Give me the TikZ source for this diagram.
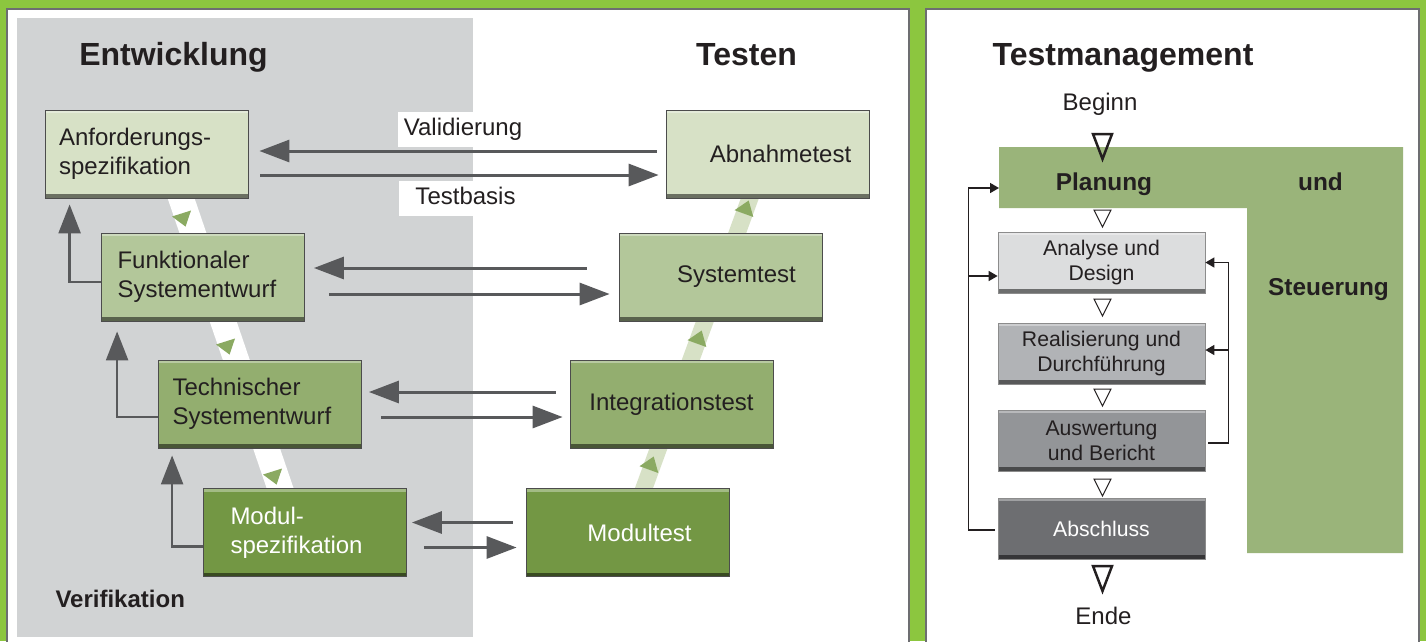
\documentclass[tikz,border=0pt]{standalone}
\usepackage{fontspec}
\setmainfont{Liberation Sans}
\usepackage{tikz}
\usetikzlibrary{arrows.meta, calc}
\definecolor{vmframe}{HTML}{8CC63F}
\definecolor{vmpanel}{HTML}{6D6E71}
\definecolor{vmdevgray}{HTML}{D1D3D4}
\definecolor{vmlight}{HTML}{D7E1C6}
\definecolor{vmmid}{HTML}{B3C79A}
\definecolor{vmdark}{HTML}{93AE6F}
\definecolor{vmdeep}{HTML}{739744}
\definecolor{vmtri}{HTML}{8BAA62}
\definecolor{vmarrow}{HTML}{58595B}
\definecolor{vmtext}{HTML}{231F20}
\definecolor{tmgreen}{HTML}{9AB47A}
\definecolor{tmA}{HTML}{DCDDDE}
\definecolor{tmB}{HTML}{B1B3B6}
\definecolor{tmC}{HTML}{939598}
\definecolor{tmD}{HTML}{6D6E71}

\tikzset{
  bevel/.style={draw=black!70, line width=0.8pt,
    path picture={
      \fill[white, opacity=0.35] (path picture bounding box.north west) rectangle ($(path picture bounding box.north east)+(0,3)$);
      \fill[black, opacity=0.5] (path picture bounding box.south west) rectangle ($(path picture bounding box.south east)+(0,-4)$);
    }},
  vbox/.style={rectangle, bevel, minimum width=203pt, minimum height=88pt,
    text=vmtext, font=\fontsize{24}{29}\selectfont},
  devbox/.style={vbox, align=left},
  tmbox/.style={rectangle, bevel, draw=black!45, minimum width=207pt, minimum height=61pt,
    text=vmtext, align=center, font=\fontsize{21.2}{25}\selectfont},
  title/.style={anchor=base, text=vmtext, font=\bfseries\fontsize{32}{38}\selectfont},
  lbl/.style={fill=white, text=vmtext, text height=17pt, text depth=5pt, minimum height=35pt,
    font=\fontsize{24}{29}\selectfont},
  plain/.style={anchor=base, text=vmtext, font=\fontsize{24}{29}\selectfont},
  boldtxt/.style={anchor=base, text=vmtext, font=\bfseries\fontsize{24.4}{29}\selectfont},
  varrow/.style={draw=vmarrow, line width=3pt, -{Triangle[length=30pt, width=22pt]}},
  verarrow/.style={draw=vmarrow, line width=2.5pt, -{Triangle[length=29pt, width=22pt]}},
  fbarrow/.style={draw=vmtext, line width=1.6pt, -{Triangle[length=9pt, width=10pt]}},
  flowtri/.style={draw=vmtext, line width=1pt, line join=miter}
}

\begin{document}
\begin{tikzpicture}[x=1pt, y=-1pt]
  \useasboundingbox (0,0) rectangle (1426,641);

  % Frame and panels
  \fill[vmframe] (0,0) rectangle (1426,641);
  \filldraw[fill=white, draw=vmpanel, line width=2.5pt] (7,9) rectangle (909,645);
  \filldraw[fill=white, draw=vmpanel, line width=2.5pt] (926,9) rectangle (1419,645);
  \fill[vmdevgray] (17,18) rectangle (473,637);

  % V bands
  \draw[white, line width=25.5pt] (164.6,150) -- (297.8,540);
  \draw[vmlight, line width=17pt] (625,540) -- (767.5,150);
  \foreach \cx/\cy in {183/219, 227/347, 274/477}
    \fill[vmtri] (\cx-11,\cy-2.5) -- (\cx+8,\cy-8.5) -- (\cx+2.6,\cy+7.6) -- cycle;
  \foreach \cx/\cy in {651/464, 699/338, 746/208}
    \fill[vmtri] (\cx-11.5,\cy+2.2) -- (\cx+7.3,\cy+9) -- (\cx+2.7,\cy-7.5) -- cycle;

  % Titles
  \node[title] (entw) at (173.5,65) {Entwicklung};
  \node[title] (testen) at (746.5,65) {Testen};
  \node[title] (tmtitle) at (1123,65) {Testmanagement};

  % Development side
  \node[devbox, fill=vmlight, text width=175pt, inner xsep=14pt] (anf) at (146.5,154) {Anforderungs-\\spezifikation};
  \node[devbox, fill=vmmid, text width=171pt, inner xsep=16pt] (fkt) at (203,277) {Funktionaler\\Systementwurf};
  \node[devbox, fill=vmdark, text width=175pt, inner xsep=14pt] (tech) at (260,404) {Technischer\\Systementwurf};
  \node[devbox, fill=vmdeep, text=white, text width=149pt, inner xsep=27pt] (modspez) at (305,532.5) {Modul-\\spezifikation};

  % Test side
  \node[vbox, fill=vmlight] (abn) at (767.5,154) {\hspace*{26pt}Abnahmetest};
  \node[vbox, fill=vmmid] (sys) at (720.5,277) {\hspace*{32pt}Systemtest};
  \node[vbox, fill=vmdark] (integ) at (671.5,404) {Integrationstest\\[4pt]};
  \node[vbox, fill=vmdeep, text=white] (modtest) at (627.5,532.5) {\hspace*{24pt}Modultest};

  % Validierung / Testbasis
  \draw[varrow] ([shift={(-9,-3)}]abn.west) -- ([shift={(11,-3)}]anf.east);
  \draw[varrow] ([shift={(12,21)}]anf.east) -- ([shift={(-7,21)}]abn.west);
  \draw[varrow] ([shift={(-32,-9)}]sys.west) -- ([shift={(9,-9)}]fkt.east);
  \draw[varrow] ([shift={(24,17)}]fkt.east) -- ([shift={(-9,17)}]sys.west);
  \draw[varrow] ([shift={(-14,-12)}]integ.west) -- ([shift={(7,-12)}]tech.east);
  \draw[varrow] ([shift={(19,13)}]tech.east) -- ([shift={(-7,13)}]integ.west);
  \draw[varrow] ([shift={(-13,-10)}]modtest.west) -- ([shift={(5,-10)}]modspez.east);
  \draw[varrow] ([shift={(17,15)}]modspez.east) -- ([shift={(-9,15)}]modtest.west);
  \node[lbl, inner xsep=6pt] (valid) at (463,129) {Validierung};
  \node[lbl, inner xsep=16pt] (tbasis) at (465.5,198) {Testbasis};

  % Verifikation
  \draw[verarrow] ([shift={(0,5)}]fkt.west) -| ([shift={(25,6)}]anf.south west);
  \draw[verarrow] ([shift={(0,13)}]tech.west) -| ([shift={(16,10)}]fkt.south west);
  \draw[verarrow] ([shift={(0,14)}]modspez.west) -| ([shift={(14,7)}]tech.south west);
  \node[boldtxt, anchor=base west, font=\bfseries\fontsize{24}{29}\selectfont] (verif) at (52,607) {Verifikation};

  % Planung und Steuerung
  \fill[tmgreen] (999,147) -- (1403,147) -- (1403,553) -- (1247,553) -- (1247,208) -- (999,208) -- cycle;
  \coordinate (planin) at (999,188);
  \node[boldtxt] (plan) at (1104,190) {Planung};
  \node[boldtxt] (und) at (1320.5,190) {und};
  \node[boldtxt] (steu) at (1328.5,295) {Steuerung};
  \node[plain] (beginn) at (1100,110) {Beginn};
  \node[plain] (ende) at (1103.5,624) {Ende};

  % Test process
  \node[tmbox, fill=tmA] (analyse) at (1101.5,262.5) {Analyse und\\Design};
  \node[tmbox, fill=tmB] (real) at (1101.5,353.5) {Realisierung und\\Durchführung};
  \node[tmbox, fill=tmC] (ausw) at (1101.5,440.5) {Auswertung\\und Bericht};
  \node[tmbox, fill=tmD, text=white] (absch) at (1101.5,528.5) {Abschluss};

  % Flow triangles
  \draw[flowtri, line width=2.5pt] (1093,134) -- (1112,134) -- (1102.5,159) -- cycle;
  \foreach \ty in {210,299,389,479}
    \draw[flowtri] (1094,\ty) -- (1111,\ty) -- (1102.5,\ty+17) -- cycle;
  \draw[flowtri, line width=2.5pt] (1093,566) -- (1112,566) -- (1102.5,591) -- cycle;

  % Loops back
  \coordinate (fbr) at ($(ausw.east)+(23,2.5)$);
  \draw[fbarrow] ([shift={(3,2.5)}]ausw.east) -- (fbr) |- (analyse.east);
  \draw[fbarrow] (fbr) |- ([shift={(0,-3.5)}]real.east);
  \coordinate (lbk) at ($(absch.west)+(-29,1.5)$);
  \draw[fbarrow] ([shift={(-3,1.5)}]absch.west) -- (lbk) |- (planin);
  \draw[fbarrow] (lbk) |- ([shift={(0,13.5)}]analyse.west);
\end{tikzpicture}
\end{document}
